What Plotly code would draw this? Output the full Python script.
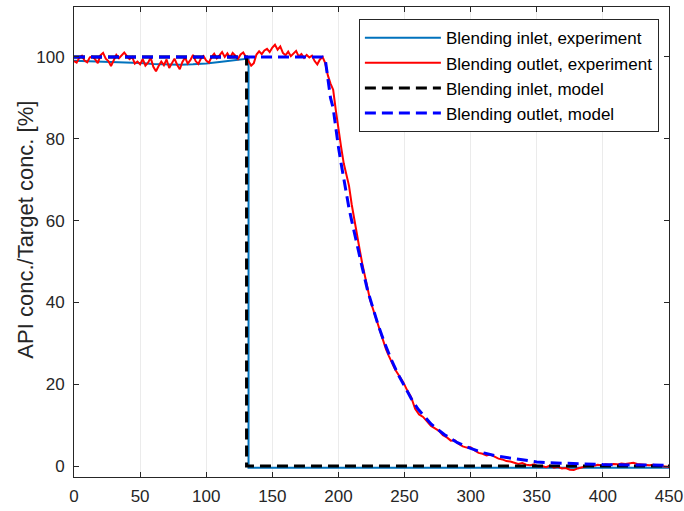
import plotly.graph_objects as go

# ---------------- data ----------------
t_in_exp = [0, 10, 20, 30, 40, 50, 60, 70, 80, 90, 100, 110, 120, 128, 132, 132, 200, 300, 400, 450]
in_exp = [99.1, 99.0, 98.9, 98.8, 98.7, 98.5, 98.3, 98.2, 98.1, 98.2, 98.4, 98.8, 99.2, 99.5, 99.6, -0.4, -0.4, -0.4, -0.4, -0.4]

t_out_exp = [
    0, 2, 4, 6, 8, 10, 12, 14, 16, 18, 20, 22, 24, 26, 28, 30, 32, 34, 36, 38,
    40, 42, 44, 46, 48, 50, 52, 54, 56, 58, 60, 62, 64, 66, 68, 70, 72, 74, 76, 78,
    80, 82, 84, 86, 88, 90, 92, 94, 96, 98, 100, 102, 104, 106, 108, 110, 112, 114, 116, 118,
    120, 122, 124, 126, 128, 130, 132, 134, 136, 138, 140, 142, 144, 146, 148, 150, 152, 154, 156, 158,
    160, 162, 164, 166, 168, 170, 172, 174, 176, 178, 180, 182, 184, 186, 188, 190, 192, 194, 196, 198,
    200, 202, 204, 206, 208, 210, 212, 214, 216, 218, 220, 222, 224, 226, 228, 230, 232, 234, 236, 238,
    240, 243, 246, 249, 252, 255, 258, 261, 264, 267, 270, 273, 276, 279, 282, 285, 288, 291, 294, 297,
    300, 303, 306, 309, 312, 315, 318, 321, 324, 327, 330, 333, 336, 339, 342, 345, 348, 351, 354, 357,
    360, 363, 366, 369, 372, 375, 378, 381, 384, 387, 390, 393, 396, 399, 402, 405, 408, 411, 414, 417,
    420, 423, 426, 429, 432, 435, 438, 441, 444, 447, 450,
]
out_exp = [
    99.0, 98.6, 99.8, 100.3, 99.1, 98.7, 99.9, 100.1, 99.4, 98.5, 100.4, 101.0, 99.6, 99.0, 97.8, 99.2, 100.5, 99.7, 100.3, 101.1,
    100.2, 99.5, 100.0, 98.4, 98.9, 98.2, 99.5, 97.9, 98.6, 99.8, 97.6, 96.5, 97.8, 98.9, 98.0, 99.4, 97.3, 98.5, 99.6, 98.1,
    97.0, 98.8, 99.9, 98.4, 99.2, 100.5, 99.0, 98.3, 99.6, 100.2, 99.1, 98.6, 100.0, 100.8, 99.7, 100.4, 101.2, 100.0, 100.9, 99.8,
    101.0, 100.3, 99.5, 100.6, 101.1, 100.0, 98.8, 97.9, 98.5, 100.6, 101.4, 100.7, 101.6, 102.0, 101.2, 102.3, 103.0, 101.8, 102.6, 101.0,
    100.4, 101.3, 100.2, 100.9, 101.5, 100.1, 100.7, 99.8, 100.5, 99.9, 100.3, 99.0, 98.2, 99.4, 100.0, 98.5, 95.5, 93.5, 92.0, 87.0,
    82.0, 78.0, 74.0, 71.0, 68.5, 64.0, 60.0, 56.0, 53.0, 49.5, 46.5, 43.5, 40.5, 38.5, 36.5, 34.0, 32.0, 30.5, 28.5, 27.0,
    25.5, 23.5, 22.0, 20.5, 18.5, 16.8, 14.0, 12.6, 12.0, 10.8, 9.8, 9.2, 8.6, 7.5, 7.0, 6.2, 6.3, 5.4, 4.8, 4.5,
    4.6, 3.8, 3.2, 3.0, 2.6, 2.8, 2.2, 1.8, 1.6, 1.2, 1.1, 0.8, 0.5, 0.7, 0.3, 0.2, 0.4, -0.1, 0.0, -0.3,
    0.1, -0.4, -0.2, -0.6, -0.5, -0.9, -1.0, -0.6, -0.3, -0.1, 0.2, 0.0, 0.3, 0.2, 0.4, 0.3, 0.5, 0.4, 0.6, 0.5,
    0.7, 0.8, 0.5, 0.4, 0.3, 0.2, 0.3, 0.1, 0.0, -0.1, -0.2,
]

t_in_model = [0, 130.5, 130.5, 450]
in_model = [100, 100, 0, 0]

t_out_model = [0, 188, 190, 192, 194, 196, 198, 200, 202, 204, 206, 208, 210, 214, 218, 222, 226, 230, 235, 240,
               245, 250, 255, 260, 270, 280, 290, 300, 310, 320, 330, 340, 350, 360, 380, 400, 425, 450]
out_model = [100, 100, 99.5, 95, 90, 87.5, 82.5, 78, 74, 70, 66.5, 63, 60, 54, 48.5, 43, 38.5, 34.5, 30, 26,
             22.5, 19.5, 16.5, 14, 10.3, 7.7, 5.7, 4.3, 3.2, 2.4, 1.9, 1.4, 1.0, 0.8, 0.5, 0.35, 0.25, 0.2]

x_ticks = [0, 50, 100, 150, 200, 250, 300, 350, 400, 450]
y_ticks = [0, 20, 40, 60, 80, 100]
y_title = "API conc./Target conc. [%]"

FONT = "Liberation Sans, Arial, Helvetica, sans-serif"

# ---------------- figure ----------------
fig = go.Figure()
fig.add_trace(go.Scatter(x=t_in_exp, y=in_exp, mode="lines", name="Blending inlet, experiment",
                         line=dict(color="#0072BD", width=2)))
fig.add_trace(go.Scatter(x=t_out_exp, y=out_exp, mode="lines", name="Blending outlet, experiment",
                         line=dict(color="#FF0000", width=2)))
fig.add_trace(go.Scatter(x=t_in_model, y=in_model, mode="lines", name="Blending inlet, model",
                         line=dict(color="#000000", width=3, dash="11px,6px")))
fig.add_trace(go.Scatter(x=t_out_model, y=out_model, mode="lines", name="Blending outlet, model",
                         line=dict(color="#0000FF", width=3, dash="11px,6px")))

axis_common = dict(showline=True, linecolor="#262626", linewidth=1, mirror="ticks",
                   ticks="inside", ticklen=5, tickcolor="#262626", zeroline=False,
                   tickfont=dict(family=FONT, size=17, color="#262626"))

fig.update_xaxes(range=[0, 450], tickvals=x_ticks, showgrid=True, gridcolor="#ebebeb", gridwidth=1,
                 ticklabelstandoff=4, **axis_common)
fig.update_yaxes(range=[-2.69, 112.22], tickvals=y_ticks, showgrid=False,
                 ticklabelstandoff=5, **axis_common)

fig.add_annotation(text=y_title, xref="paper", yref="paper", x=-0.083, y=0.5255,
                   xanchor="center", yanchor="middle", textangle=-90, showarrow=False,
                   font=dict(family=FONT, size=22, color="#262626"))

fig.update_layout(
    width=684, height=511,
    margin=dict(l=74, r=15, t=7, b=34, autoexpand=False),
    plot_bgcolor="white", paper_bgcolor="white",
    font=dict(family=FONT, color="#262626"),
    legend=dict(x=0.983, y=0.974, xanchor="right", yanchor="top",
                bgcolor="white", bordercolor="#262626", borderwidth=1,
                font=dict(family=FONT, size=17, color="#000000"),
                itemwidth=76, tracegroupgap=0),
    showlegend=True,
)

fig.write_html("out.html", config={"displayModeBar": False},
               post_script="document.body.style.margin='0';document.body.style.overflow='hidden';")
